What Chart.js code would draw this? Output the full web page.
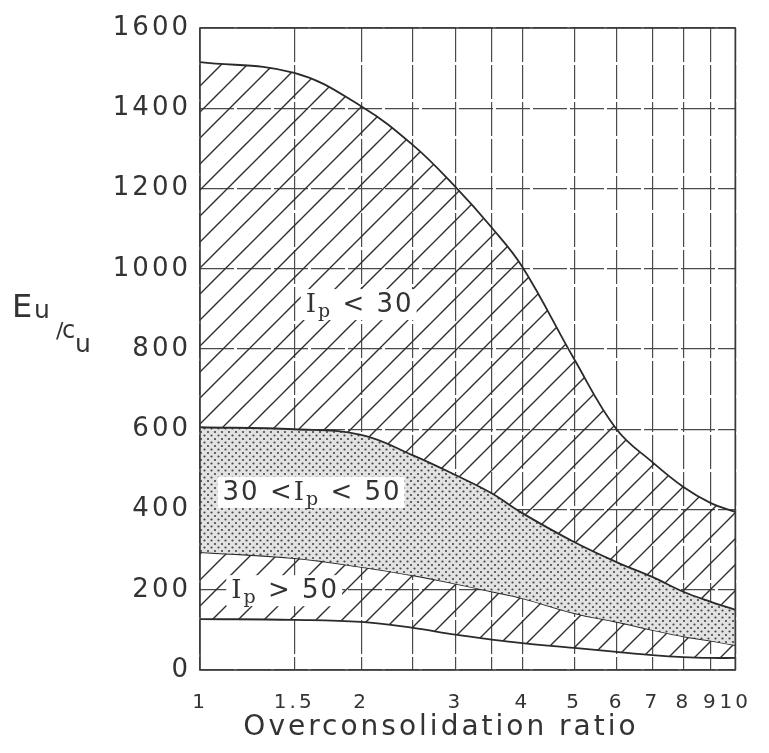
<!DOCTYPE html>
<html>
<head>
<meta charset="utf-8">
<title>Eu/cu vs overconsolidation ratio</title>
<script src="https://cdn.jsdelivr.net/npm/chart.js@4.4.0/dist/chart.umd.min.js"></script>
<style>
    html, body { margin: 0; padding: 0; background: #fff; }
    #wrap { width: 769px; height: 753px; }
</style>
</head>
<body>
<div id="wrap"><canvas id="mainChart" width="769" height="753"></canvas></div>
<script>
"use strict";
// overconsolidation ratio (log axis)
const ocrValues = [1, 1.5, 2, 2.5, 3, 3.5, 4, 5, 6, 7, 8, 9, 10];
// Eu/cu boundaries
const upperBound = [1515, 1488, 1405, 1308, 1204, 1104, 1005, 775, 600, 518, 456, 416, 394];
const boundaryIp30 = [605, 600, 586, 535, 486, 441, 391, 319, 269, 232, 195, 170, 150];
const boundaryIp50 = [294, 279, 257, 236, 215, 196, 179, 142, 120, 100, 84, 73, 62];
const lowerBound = [127, 125, 120, 105, 88, 76, 67, 55, 45, 37, 32, 30, 30];

const xTickValues = [1, 1.5, 2, 2.5, 3, 3.5, 4, 5, 6, 7, 8, 9, 10];
const xTickLabels = ['1', '1.5', '2', '', '3', '', '4', '5', '6', '7', '8', '9', '10'];
const yTickStep = 200;
const yMin = 0;
const yMax = 1600;

// region labels: anchor = [ocr, Eu/cu] of the text's left baseline
const regionLabels = [
    { anchor: [1.576, 892], before: '', after: ' < 30' },
    { anchor: [1.102, 424], before: '30 <', after: ' < 50' },
    { anchor: [1.144, 179], before: '', after: ' > 50' }
];

const INK = '#333';
const SANS = '"DejaVu Sans", sans-serif';
const SERIF = '"DejaVu Serif", serif';

function toPoints(values) {
    return ocrValues.map((x, i) => ({ x: x, y: values[i] }));
}

function makeHatch(size) {
    const c = document.createElement('canvas');
    c.width = size;
    c.height = size;
    const g = c.getContext('2d');
    g.strokeStyle = '#2e2e2e';
    g.lineWidth = 1.4;
    g.beginPath();
    g.moveTo(0, size); g.lineTo(size, 0);
    g.moveTo(-size / 2, size / 2); g.lineTo(size / 2, -size / 2);
    g.moveTo(size / 2, size * 1.5); g.lineTo(size * 1.5, size / 2);
    g.stroke();
    return g.createPattern(c, 'repeat');
}

function makeStipple(size) {
    const c = document.createElement('canvas');
    c.width = size;
    c.height = size;
    const g = c.getContext('2d');
    g.fillStyle = '#e2e2e2';
    g.fillRect(0, 0, size, size);
    g.fillStyle = '#474747';
    [[1.5, 1.5], [size / 2 + 1.5, size / 2 + 1.5]].forEach(([x, y]) => {
        g.beginPath();
        g.arc(x, y, 1.1, 0, Math.PI * 2);
        g.fill();
    });
    return g.createPattern(c, 'repeat');
}

function drawRegionLabel(ctx, chart, label) {
    const xs = chart.scales.x;
    const ys = chart.scales.y;
    const left = xs.getPixelForValue(label.anchor[0]);
    const base = ys.getPixelForValue(label.anchor[1]);
    const parts = [
        { text: label.before, font: '26px ' + SANS, dy: 0 },
        { text: 'I', font: '26px ' + SERIF, dy: 0 },
        { text: 'p', font: '19px ' + SERIF, dy: 5 },
        { text: label.after, font: '26px ' + SANS, dy: 0 }
    ];
    let width = 0;
    parts.forEach((p) => {
        ctx.font = p.font;
        p.w = ctx.measureText(p.text).width;
        width += p.w;
    });
    ctx.fillStyle = '#fff';
    ctx.fillRect(left - 5, base - 23, width + 8, 31);
    ctx.fillStyle = INK;
    ctx.textBaseline = 'alphabetic';
    ctx.textAlign = 'left';
    let x = left;
    parts.forEach((p) => {
        ctx.font = p.font;
        ctx.fillText(p.text, x, base + p.dy);
        x += p.w;
    });
}

const figureText = {
    id: 'figureText',
    beforeDraw(chart) {
        chart.ctx.letterSpacing = '3px';
    },
    afterDatasetsDraw(chart) {
        const ctx = chart.ctx;
        ctx.save();
        ctx.letterSpacing = '2px';
        regionLabels.forEach((label) => drawRegionLabel(ctx, chart, label));
        ctx.restore();
    },
    afterDraw(chart) {
        const ctx = chart.ctx;
        const area = chart.chartArea;
        ctx.save();
        ctx.fillStyle = INK;
        ctx.textBaseline = 'alphabetic';
        // x axis title
        ctx.letterSpacing = '3px';
        ctx.font = '28px ' + SANS;
        ctx.textAlign = 'center';
        ctx.fillText('Overconsolidation ratio', 441, 735);
        // y axis title Eu/cu, stepped like the original lettering
        ctx.letterSpacing = '0px';
        ctx.textAlign = 'left';
        ctx.font = '32px ' + SANS;
        ctx.fillText('E', 12, 317);
        ctx.font = '25px ' + SANS;
        ctx.fillText('u', 34, 318);
        ctx.font = '22px ' + SANS;
        ctx.fillText('/', 56, 338);
        ctx.font = '24px ' + SANS;
        ctx.fillText('c', 62, 338);
        ctx.font = '25px ' + SANS;
        ctx.fillText('u', 75, 352);
        ctx.restore();
        // frame on top of everything
        ctx.save();
        ctx.strokeStyle = '#3a3a3a';
        ctx.lineWidth = 1.6;
        ctx.strokeRect(area.left, area.top, area.right - area.left, area.bottom - area.top);
        ctx.restore();
    }
};

const hatch = makeHatch(26);
const stipple = makeStipple(7);

const lineStyle = {
    borderColor: '#2a2a2a',
    borderWidth: 1.8,
    pointRadius: 0,
    tension: 0.4
};

new Chart(document.getElementById('mainChart'), {
    type: 'line',
    data: {
        datasets: [
            Object.assign({ label: 'Ip < 30', data: toPoints(upperBound), fill: '+1', backgroundColor: hatch }, lineStyle),
            Object.assign({ label: '30 < Ip < 50', data: toPoints(boundaryIp30), fill: '+1', backgroundColor: stipple }, lineStyle),
            Object.assign({ label: 'Ip > 50', data: toPoints(boundaryIp50), fill: '+1', backgroundColor: hatch }, lineStyle),
            Object.assign({ label: 'lower', data: toPoints(lowerBound), fill: false }, lineStyle)
        ]
    },
    options: {
        responsive: false,
        animation: false,
        devicePixelRatio: 1,
        layout: { padding: { top: 28, right: 22, left: 0, bottom: 0 } },
        plugins: {
            legend: { display: false },
            tooltip: { enabled: false }
        },
        scales: {
            x: {
                type: 'logarithmic',
                min: 1,
                max: 10,
                afterBuildTicks: (scale) => {
                    scale.ticks = xTickValues.map((v) => ({ value: v }));
                },
                afterFit: (scale) => { scale.height = 83; },
                ticks: {
                    autoSkip: false,
                    maxRotation: 0,
                    padding: 21,
                    color: INK,
                    font: { family: SANS, size: 20 },
                    callback: (value) => xTickLabels[xTickValues.indexOf(value)]
                },
                grid: { color: '#4a4a4a', lineWidth: 1.2, drawTicks: false },
                border: { display: false, dash: [34, 3] }
            },
            y: {
                min: yMin,
                max: yMax,
                afterFit: (scale) => { scale.width = 200; },
                ticks: {
                    stepSize: yTickStep,
                    padding: 9,
                    color: INK,
                    font: { family: SANS, size: 26 },
                    callback: (value) => String(value)
                },
                grid: { color: '#4a4a4a', lineWidth: 1.2, drawTicks: false },
                border: { display: false, dash: [34, 3] }
            }
        }
    },
    plugins: [figureText]
});
</script>
</body>
</html>
